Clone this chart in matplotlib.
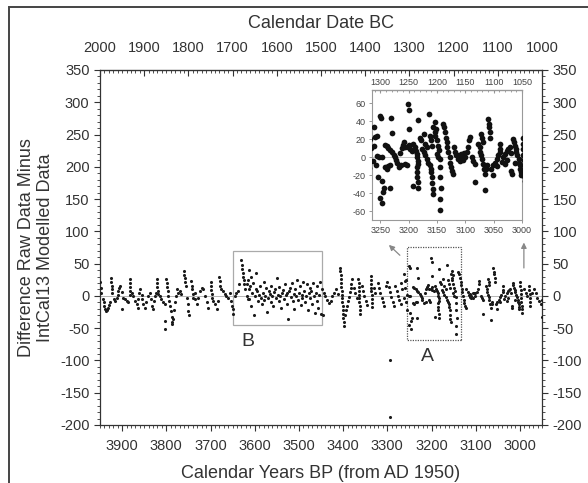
import matplotlib
matplotlib.use('Agg')
import matplotlib.pyplot as plt
import matplotlib.ticker as mticker
from matplotlib.patches import Rectangle
import numpy as np

plt.rcParams['font.family'] = ['Liberation Sans', 'DejaVu Sans']
plt.rcParams['axes.unicode_minus'] = False

# (calendar years BP, difference raw - IntCal13 modelled)
pts_early = [
    (3950, 22), (3948, 12), (3947, 5), (3944, -5), (3942, -10), (3940, -15), (3938, -20),
    (3936, -24), (3934, -22), (3932, -18), (3930, -14), (3928, -10),
    (3924, 28), (3924, 22), (3923, 16), (3923, 10), (3922, 5),
    (3918, -5), (3915, -8), (3912, -4), (3909, 2), (3909, 8), (3906, 12), (3904, 16),
    (3901, 6), (3901, -20), (3897, -3), (3894, -5), (3890, -8), (3886, -10),
    (3883, 26), (3883, 20), (3882, 14), (3882, 8), (3881, 2),
    (3878, 5), (3875, 0), (3871, -8), (3867, -13), (3865, -18), (3864, -5), (3862, 5),
    (3859, 10), (3856, 2), (3854, -5), (3852, -13), (3849, -18),
    (3845, -10), (3841, 0), (3838, 5), (3835, -5), (3833, -15), (3830, -20), (3828, -8),
    (3826, 0), (3824, 5),
    (3822, 26), (3821, 20), (3820, 14), (3819, 8), (3818, 3),
    (3815, 0), (3811, -5), (3807, -10), (3803, -13), (3803, -39), (3803, -52),
    (3800, 26), (3799, 20), (3798, 14), (3797, 8),
    (3796, 0), (3794, -8), (3792, -16), (3790, -24), (3788, -32), (3787, -40), (3786, -44),
    (3784, -35), (3782, -22), (3780, -10), (3778, 0), (3776, 10),
    (3773, 5), (3770, 8), (3766, 3),
    (3760, 39), (3759, 33), (3758, 27), (3757, 21), (3756, 16),
    (3754, -3), (3752, -13), (3750, -23), (3748, -29),
    (3743, 23), (3742, 16), (3741, 10), (3740, 3), (3739, -3), (3735, 5), (3734, -5),
    (3731, -13), (3728, -3), (3724, 8), (3720, 13), (3716, 10), (3713, 0), (3709, -10),
    (3705, -18),
    (3700, 21), (3699, 15), (3698, 9), (3697, 3), (3696, -3), (3695, -8),
    (3690, -13), (3686, -21), (3683, -8),
    (3680, 29), (3679, 23), (3678, 16), (3677, 10),
    (3672, 8), (3668, 3), (3664, 0), (3660, -3), (3657, 5),
    (3653, -8), (3652, -15), (3650, -20), (3649, -28),
    (3645, 0), (3642, 5), (3638, 8), (3636, 18),
    (3630, 55), (3629, 48), (3628, 42), (3627, 36), (3626, 30), (3625, 24), (3624, 18),
    (3622, 10), (3618, 0), (3615, -5),
]

pts_box_b = [
    (3617, 18), (3615, 25), (3613, 10), (3612, 40), (3612, -5), (3610, 15), (3608, 30),
    (3608, -15), (3606, 5), (3604, 20), (3602, -30), (3600, 0), (3598, 10), (3596, 35),
    (3594, 8), (3592, -8), (3590, 2), (3588, 15), (3586, -3), (3584, -12), (3582, 5),
    (3580, 22), (3578, -6), (3576, 0), (3574, 12), (3572, -25), (3570, -4), (3568, 8),
    (3566, 3), (3564, -10), (3562, 16), (3560, 0), (3558, -15), (3556, 6), (3554, 10),
    (3552, -3), (3550, 28), (3548, 2), (3546, -8), (3544, 14), (3542, 0), (3540, -18),
    (3538, 5), (3536, 9), (3534, -5), (3532, 18), (3530, 1), (3528, -12), (3526, 4),
    (3524, -35), (3522, 7), (3520, 12), (3518, -2), (3516, 20), (3514, -8), (3512, 3),
    (3510, -20), (3508, 10), (3506, 0), (3504, 25), (3502, -6), (3500, 5), (3498, 15),
    (3496, -14), (3494, 2), (3492, -4), (3490, 22), (3488, 8), (3486, -10), (3484, 0),
    (3482, 18), (3480, -22), (3478, 4), (3476, 12), (3474, -3), (3472, 7), (3470, -12),
    (3468, 20), (3466, 0), (3464, -26), (3462, 5), (3460, 15), (3458, -8), (3456, -18),
    (3454, 2), (3452, 22), (3450, -28), (3448, 10), (3446, -30),
]

pts_middle = [
    (3443, 5), (3440, 0), (3436, -6), (3432, -11), (3428, -8), (3424, 0), (3420, 5),
    (3416, 10), (3412, 3),
    (3406, 44), (3406, 38), (3405, 32), (3405, 26), (3404, 20), (3404, 14), (3403, 8),
    (3403, 2), (3402, -4), (3402, -10), (3401, -16), (3401, -22), (3400, -28), (3400, -34),
    (3399, -40), (3399, -46),
    (3395, -29), (3393, -22), (3391, -15), (3389, -8), (3387, -1), (3385, 6), (3383, 13),
    (3381, 19), (3379, 26),
    (3375, 12), (3372, 5), (3369, -3),
    (3366, 26), (3365, 20), (3365, 14), (3364, 8), (3364, 2), (3363, -4), (3363, -10),
    (3362, -16), (3362, -22), (3361, -28),
    (3358, 15), (3355, 8), (3352, 0), (3349, -8), (3346, -14),
    (3338, 31), (3337, 25), (3337, 19), (3336, 13), (3336, 7), (3335, 1), (3335, -5),
    (3334, -11), (3334, -17),
    (3330, 12), (3327, 5),
    (3322, 20), (3319, 12), (3316, 5), (3313, -3), (3310, -10), (3307, -16),
    (3303, 15), (3300, 22), (3297, 14), (3294, 6), (3291, -2), (3288, -10), (3285, -16),
    (3294, -100), (3294, -187),
    (3282, 15), (3279, 8), (3276, 0), (3273, -6), (3270, -12), (3268, 20), (3266, 10),
]

pts_box_a = [
    (3263, -4), (3262, 34), (3261, 12), (3259, 23), (3258, -9), (3257, 24), (3256, 1),
    (3255, -22), (3252, 0), (3251, 46), (3251, -45), (3249, 44), (3248, -26), (3248, 0),
    (3247, -51), (3246, -39), (3244, -34),
    (3242, 14), (3239, 12), (3236, 10), (3233, 8),
    (3242, -11), (3239, -13), (3236, -10), (3233, -9),
    (3232, 44), (3230, 27), (3233, -34),
    (3230, 6), (3227, 3), (3224, 0), (3222, -3), (3221, -6),
    (3218, -11), (3213, -9), (3215, 5), (3212, 10), (3210, 14),
    (3209, 17), (3206, 11), (3206, -7), (3203, -9),
    (3201, 59), (3199, 53), (3199, 31),
    (3201, 11), (3198, 9), (3195, 7), (3199, 14),
    (3193, -32),
    (3192, 15), (3189, 11), (3188, 7), (3186, 4), (3185, 0), (3184, -4), (3184, -8),
    (3186, -11), (3186, -17), (3185, -22), (3184, -28), (3183, -34),
    (3183, 41), (3180, 22), (3179, 19),
    (3177, 9), (3174, 6), (3171, 2), (3168, -2), (3166, -6),
    (3174, 26), (3171, 15), (3168, 11),
    (3165, 48),
    (3162, 24), (3161, 19), (3159, 13),
    (3162, -9), (3161, -13), (3160, -17), (3159, -22), (3159, -29), (3158, -35), (3157, -41),
    (3157, 34), (3154, 39), (3153, 28), (3152, 32),
    (3151, 4), (3148, 0), (3145, -2), (3145, -11),
    (3145, -22), (3143, -34), (3144, -47), (3145, -59),
    (3139, 37), (3138, 34), (3136, 28), (3134, 22), (3133, 17), (3132, 11), (3130, 6),
    (3128, 0), (3127, -6), (3126, -11), (3124, -15), (3122, -19),
    (3154, 24), (3151, 19), (3148, 13), (3146, 8),
]

pts_late = [
    (3121, 11), (3118, 6), (3116, 2), (3113, -2), (3110, -4),
    (3114, 3), (3110, 0), (3107, 4), (3105, -3), (3102, 5),
    (3104, 4), (3101, 0), (3098, 6), (3095, 11), (3093, 19), (3092, 23),
    (3089, 0), (3086, -4), (3083, -7), (3083, -28),
    (3077, 15), (3075, 11), (3074, 6), (3072, 2), (3071, -2), (3069, -7), (3068, -13),
    (3066, -19), (3072, 26), (3071, 22), (3069, 17), (3066, -37),
    (3063, -13), (3062, -9),
    (3060, 43), (3059, 37), (3058, 34), (3057, 28), (3057, 22),
    (3054, -13), (3051, -9), (3048, -6), (3045, -2), (3042, 2), (3039, 6),
    (3051, -20), (3045, -10), (3039, 15), (3038, 9),
    (3035, -5), (3033, 0), (3030, 4), (3030, -8), (3027, 7), (3026, -3), (3024, 9),
    (3022, 11), (3020, 5), (3019, -15), (3017, -19),
    (3016, 20), (3015, 17), (3013, 13), (3012, -6), (3011, 9), (3010, 6), (3008, 2),
    (3006, -2), (3005, -6), (3004, -9), (3003, -13), (3002, -17), (3001, -20),
    (2999, 21), (2999, 15), (2998, 9), (2998, 3), (2997, -3), (2997, -9), (2996, -15),
    (2996, -21), (2995, -26),
    (2991, 10), (2987, 5), (2983, 0),
    (2979, 15), (2979, 9), (2978, 3), (2978, -3), (2977, -9), (2977, -15),
    (2972, 5), (2968, 10), (2964, 5), (2961, -3), (2957, -8), (2953, -13), (2951, -33),
    (2950, -6),
]

main_xticks = list(range(3900, 2999, -100))
main_yticks = list(range(-200, 351, 50))
top_xticks = list(range(2000, 999, -100))
inset_xticks = [3250, 3200, 3150, 3100, 3050, 3000]
inset_top_xticks = [1300, 1250, 1200, 1150, 1100, 1050]
inset_yticks = [-60, -40, -20, 0, 20, 40, 60]

allpts = np.array(pts_early + pts_box_b + pts_middle + pts_box_a + pts_late, dtype=float)
bp = allpts[:, 0]
diff = allpts[:, 1]

TXT = '#333333'
fig = plt.figure(figsize=(5.88, 4.83), dpi=100)

# outer frame of the original figure
fig.patches.append(Rectangle((9 / 588, -0.05), 1.1, 1.05 - 7 / 483, transform=fig.transFigure,
                             fill=False, edgecolor='#444444', linewidth=1.4))

ax = fig.add_axes([100 / 588, 1 - 425 / 483, 442 / 588, 355 / 483])
ax.axhline(0, color='#aaaaaa', lw=0.6, zorder=1)
ax.scatter(bp, diff, s=5, color='#1a1a1a', linewidths=0, zorder=3)
ax.set_xlim(3950, 2950)
ax.set_ylim(-200, 350)
ax.set_xticks(main_xticks)
ax.set_yticks(main_yticks)
ax.xaxis.set_minor_locator(mticker.MultipleLocator(10))
ax.yaxis.set_minor_locator(mticker.MultipleLocator(10))
ax.tick_params(which='both', direction='out', right=True, labelright=True,
               labelsize=10.5, labelcolor=TXT, color='#333333')
ax.tick_params(which='major', length=4, width=0.8)
ax.tick_params(which='minor', length=2, width=0.6)
ax.tick_params(axis='x', pad=6)
for s in ax.spines.values():
    s.set_color('#333333')
    s.set_linewidth(0.9)
ax.set_xlabel('Calendar Years BP (from AD 1950)', fontsize=13, color=TXT, labelpad=9)
ax.set_ylabel('Difference Raw Data Minus\nIntCal13 Modelled Data', fontsize=13,
              color=TXT, linespacing=1.1)
ax.yaxis.set_label_coords(-0.105, 0.5)

top = ax.secondary_xaxis('top', functions=(lambda x: x - 1950, lambda x: x + 1950))
top.set_xticks(top_xticks)
top.xaxis.set_minor_locator(mticker.MultipleLocator(10))
top.tick_params(which='both', direction='in', labelsize=10.5, labelcolor=TXT, color='#333333',
                pad=11)
top.tick_params(which='major', length=4)
top.tick_params(which='minor', length=2)
top.set_xlabel('Calendar Date BC', fontsize=13, color=TXT, labelpad=9)

# highlighted regions
ax.add_patch(Rectangle((3448, -45), 200, 115, fill=False, edgecolor='#aaaaaa', lw=0.9, zorder=2))
ax.add_patch(Rectangle((3133, -68), 122, 143, fill=False, edgecolor='#555555', lw=0.9,
                       linestyle=(0, (1, 1)), zorder=2))
ax.text(3615, -71, 'B', fontsize=14, color=TXT, ha='center', va='center')
ax.text(3210, -94, 'A', fontsize=14, color=TXT, ha='center', va='center')
ax.annotate('', xy=(3301, 82), xytext=(3267, 60),
            arrowprops=dict(arrowstyle='-|>', color='#888888', lw=0.9, mutation_scale=8))
ax.annotate('', xy=(2991, 87), xytext=(2991, 39),
            arrowprops=dict(arrowstyle='-|>', color='#888888', lw=0.9, mutation_scale=8))

# inset
axin = fig.add_axes([372 / 588, 1 - 220 / 483, 150 / 588, 130 / 483])
axin.axhline(0, color='#bbbbbb', lw=0.6, zorder=1)
axin.scatter(bp, diff, s=17, color='#111111', linewidths=0, zorder=3)
axin.set_xlim(3265, 3000)
axin.set_ylim(-70, 75)
axin.set_xticks(inset_xticks)
axin.set_yticks(inset_yticks)
axin.xaxis.set_minor_locator(mticker.MultipleLocator(10))
axin.tick_params(which='both', direction='out', labelsize=6.5, labelcolor='#444444',
                 color='#888888', pad=2)
axin.tick_params(which='major', length=2.5, width=0.6)
axin.tick_params(which='minor', length=0)
for s in axin.spines.values():
    s.set_color('#999999')
    s.set_linewidth(0.8)
intop = axin.secondary_xaxis('top', functions=(lambda x: x - 1950, lambda x: x + 1950))
intop.set_xticks(inset_top_xticks)
intop.xaxis.set_minor_locator(mticker.MultipleLocator(10))
intop.tick_params(which='both', direction='in', labelsize=6.5, labelcolor='#444444',
                  color='#999999', pad=2)
intop.tick_params(which='major', length=2)
intop.tick_params(which='minor', length=1.2)

fig.savefig('out.png', dpi=100, facecolor='white')
